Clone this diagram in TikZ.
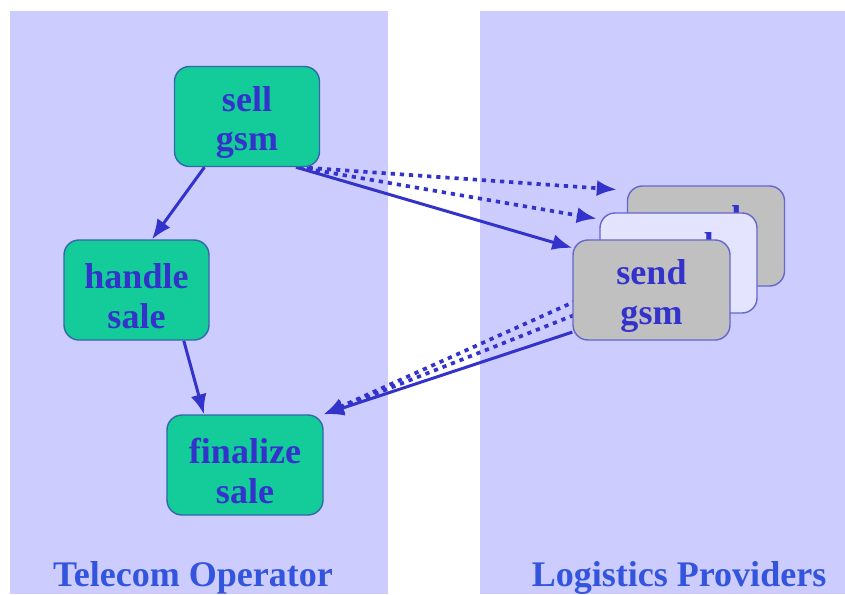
\documentclass[tikz,border=0pt]{standalone}
\usepackage{fontspec}
\setmainfont{Liberation Serif}
\usetikzlibrary{arrows.meta}
\definecolor{lanelilac}{RGB}{204,204,255}
\definecolor{stepteal}{RGB}{20,204,153}
\definecolor{stepgray}{RGB}{192,192,192}
\definecolor{stepghost}{RGB}{228,228,255}
\definecolor{inkblue}{RGB}{51,51,204}
\definecolor{labelblue}{RGB}{51,85,221}
\definecolor{tealedge}{RGB}{51,102,170}
\definecolor{grayedge}{RGB}{102,102,204}
\newcommand{\steptext}[2]{\rule{0pt}{21pt}#1\\#2}
\pgfdeclarelayer{lanes}
\pgfdeclarelayer{edges}
\pgfsetlayers{lanes,edges,main}
\tikzstyle{task} = [rectangle, draw=tealedge, fill=stepteal, text=inkblue,
    line width=0.8pt, rounded corners=0.3cm, align=center, inner sep=0pt,
    minimum width=2.9cm, minimum height=2cm,
    font=\fontsize{20.5}{22.7}\selectfont\bfseries]
\tikzstyle{provider} = [task, draw=grayedge, fill=stepgray, minimum width=3.14cm]
\tikzstyle{lanename} = [text=labelblue, anchor=base,
    font=\fontsize{20.5}{22.7}\selectfont\bfseries]
\tikzstyle{line} = [draw=inkblue, line width=1.7pt, -{Latex[length=4mm,width=3.2mm]}]
\tikzstyle{maybe} = [line, line width=2.1pt, dash pattern=on 2.4pt off 2.8pt]

\begin{document}
\begin{tikzpicture}
  \useasboundingbox (0,0) rectangle (16.9,11.88);
  \begin{pgfonlayer}{lanes}
    \fill [lanelilac] (0.2,0) rectangle (7.76,11.66);
    \fill [lanelilac] (9.6,0) rectangle (16.9,11.66);
  \end{pgfonlayer}
  \node [lanename] (telecom) at (3.86,0.16) {Telecom Operator};
  \node [lanename] (logistics) at (13.58,0.16) {Logistics Providers};
  % operator side
  \node [task] (sell) at (4.94,9.55) {\steptext{sell}{gsm}};
  \node [task] (handle) at (2.73,6.08) {\steptext{handle}{sale}};
  \node [task, minimum width=3.12cm] (finalize) at (4.9,2.58) {\steptext{finalize}{sale}};
  % provider stack, back to front
  \node [provider] (send_c) at (14.12,7.16) {\steptext{send}{gsm}};
  \node [provider, fill=stepghost] (send_b) at (13.57,6.62) {\steptext{send}{gsm}};
  \node [provider] (send_a) at (13.03,6.08) {\steptext{send}{gsm}};
  \begin{pgfonlayer}{edges}
    \path [line] (sell.230) -- (handle.73);
    \path [line] (handle.-47) -- (finalize.129);
    \path [line] (sell.-46) -- (send_a.152);
    \path [maybe, shorten >=0.2cm] (sell.-44) -- (send_c.150);
    \path [maybe, shorten >=0.05cm] (sell.-45) -- (send_b.151);
    \path [maybe] (send_c.208) -- (finalize.north east);
    \path [maybe] (send_b.208) -- (finalize.north east);
    \path [line] (send_a.208) -- (finalize.north east);
  \end{pgfonlayer}
\end{tikzpicture}
\end{document}
